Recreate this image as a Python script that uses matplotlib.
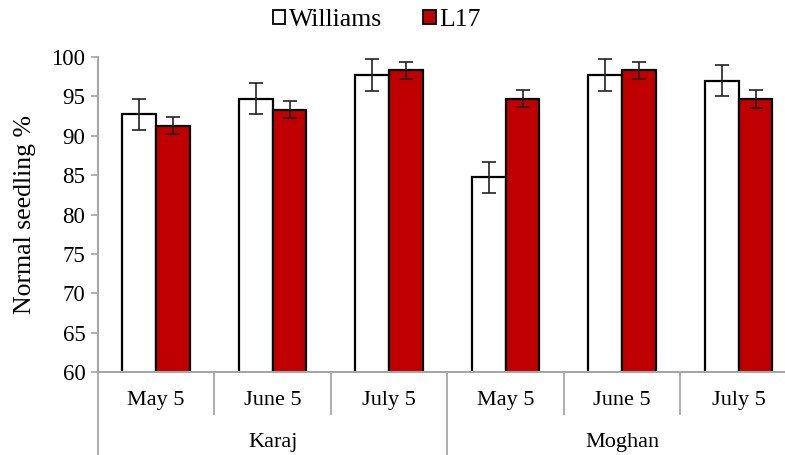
import numpy as np
import matplotlib.pyplot as plt
from matplotlib.patches import Patch
from matplotlib.transforms import blended_transform_factory

plt.rcParams['font.family'] = ['Liberation Serif', 'DejaVu Serif']

# sowing dates within each site
dates = ['May 5', 'June 5', 'July 5', 'May 5', 'June 5', 'July 5']
sites = ['Karaj', 'Moghan']
williams = [92.7, 94.7, 97.7, 84.7, 97.7, 97.0]
williams_err = [2.0, 2.0, 2.0, 2.0, 2.0, 2.0]
l17 = [91.3, 93.3, 98.3, 94.7, 98.3, 94.7]
l17_err = [1.1, 1.1, 1.1, 1.1, 1.1, 1.15]

RED = '#C00000'
AXIS_GRAY = '#A6A6A6'

fig = plt.figure(figsize=(7.85, 4.55), dpi=100)
ax = fig.add_axes([0.1248, 0.1824, 0.8904, 0.6923])

x = np.arange(len(dates))
w = 0.29
err_kw = dict(ecolor='#222222', elinewidth=1.2, capsize=5, capthick=1.2)
ax.bar(x - w / 2, williams, w, yerr=williams_err, color='white',
       edgecolor='black', linewidth=1.6, error_kw=err_kw, zorder=2)
ax.bar(x + w / 2, l17, w, yerr=l17_err, color=RED,
       edgecolor='black', linewidth=1.6, error_kw=err_kw, zorder=2)

ax.set_ylim(60, 100)
ax.set_yticks(np.arange(60, 101, 5))
ax.set_xlim(-0.5, len(dates) - 0.5)
ax.set_xticks([])
ax.tick_params(axis='y', labelsize=16.5, length=5, width=1.2, color=AXIS_GRAY, pad=4)
for s in ['top', 'right']:
    ax.spines[s].set_visible(False)
for s in ['left', 'bottom']:
    ax.spines[s].set_color(AXIS_GRAY)
    ax.spines[s].set_linewidth(1.5)
ax.set_ylabel('Normal seedling %', fontsize=18.5, labelpad=11)

# two-level category axis: dates, then sites
trans = blended_transform_factory(ax.transData, ax.transAxes)
for b in np.arange(-0.5, len(dates), 1.0):
    major = (b == -0.5) or (b == 2.5) or (b == 5.5)
    y_end = -0.27 if major else -0.133
    ax.plot([b, b], [0, y_end], color=AXIS_GRAY, lw=1.3, transform=trans,
            clip_on=False)
for i, d in enumerate(dates):
    ax.text(i, -0.092, d, transform=trans, ha='center', va='center', fontsize=16)
for j, s in enumerate(sites):
    ax.text(3 * j + 1, -0.225, s, transform=trans, ha='center', va='center',
            fontsize=16)

handles = [Patch(facecolor='white', edgecolor='black', linewidth=1.3),
           Patch(facecolor=RED, edgecolor='black', linewidth=1.3)]
fig.legend(handles, ['Williams', 'L17'], loc='center', ncol=2,
           bbox_to_anchor=(0.48, 0.955), frameon=False, fontsize=18.5,
           handlelength=0.48, handleheight=0.48, handletextpad=0.15,
           columnspacing=1.6)

fig.savefig('out.png', dpi=100)
